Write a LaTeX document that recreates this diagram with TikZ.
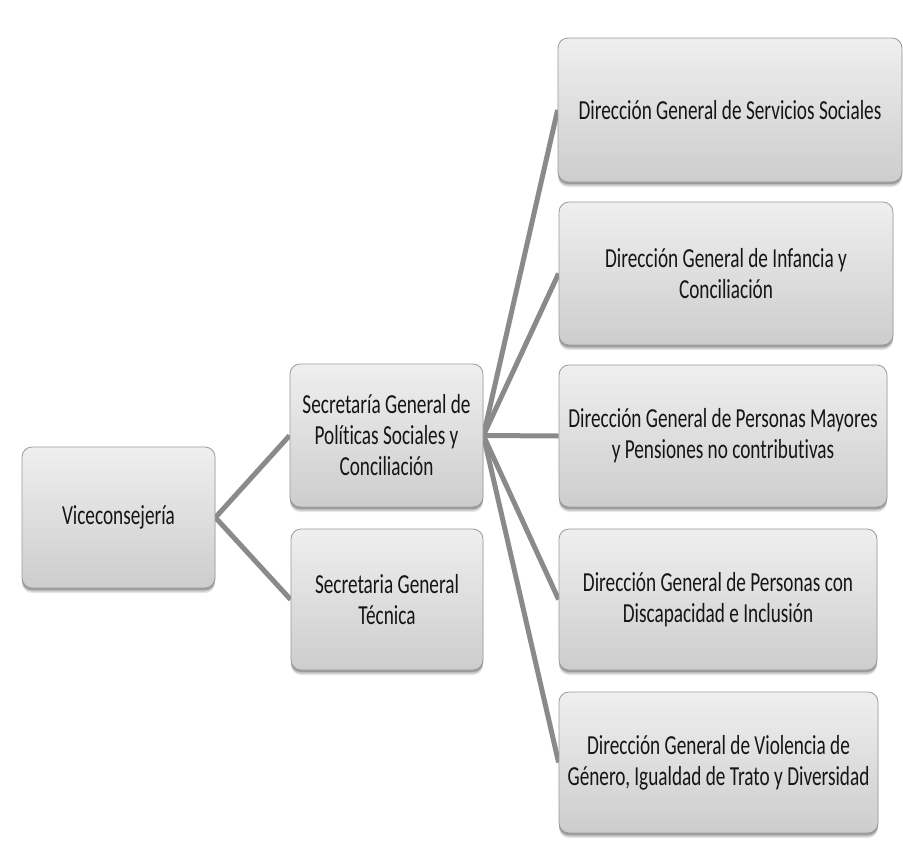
\documentclass[tikz,border=0pt]{standalone}
\usepackage{fontspec}
\setmainfont{Carlito}[FakeStretch=0.70, Ligatures=NoCommon]
\pgfdeclarelayer{bg}
\pgfdeclarelayer{paper}
\pgfsetlayers{paper,bg,main}
\definecolor{linegray}{HTML}{8A8A8A}
\definecolor{boxtop}{HTML}{EFEFEF}
\definecolor{boxmid}{HTML}{E3E3E3}
\definecolor{boxbot}{HTML}{CDCDCD}
\definecolor{boxline}{HTML}{9A9A9A}
\definecolor{txt}{HTML}{151515}
\begin{document}
\begin{tikzpicture}[x=1pt,y=-1pt,
  orgbox/.style={draw=boxline, line width=0.8pt, rounded corners=10pt,
    preaction={fill=black, fill opacity=0.10, transform canvas={yshift=-5pt}},
    preaction={fill=black, fill opacity=0.15, transform canvas={yshift=-3.5pt}},
    preaction={fill=black, fill opacity=0.20, transform canvas={yshift=-2pt}},
    top color=boxtop, middle color=boxmid, bottom color=boxbot,
    align=center, text=txt, inner sep=0pt,
    font=\fontsize{27.5}{31}\selectfont},
  link/.style={draw=linegray, line width=5pt}]
\useasboundingbox (0,0) rectangle (903,865);
\begin{pgfonlayer}{paper}
\fill[white] (0,0) rectangle (903,865);
\end{pgfonlayer}
\node[orgbox, minimum width=193pt, minimum height=141pt] (vice) at (118.5,517.5) {Viceconsejería};
\node[orgbox, minimum width=193pt, minimum height=143pt] (sgp) at (386.5,435.5) {Secretaría General de\\Políticas Sociales y\\Conciliación};
\node[orgbox, minimum width=192pt, minimum height=141pt] (sgt) at (387,599.5) {Secretaria General\\Técnica};
\node[orgbox, minimum width=344pt, minimum height=144pt] (d1) at (730,110) {Dirección General de Servicios Sociales};
\node[orgbox, minimum width=334pt, minimum height=143pt] (d2) at (726,273.5) {Dirección General de Infancia y\\Conciliación};
\node[orgbox, minimum width=328pt, minimum height=142pt] (d3) at (723,436) {Dirección General de Personas Mayores\\y Pensiones no contributivas};
\node[orgbox, minimum width=318pt, minimum height=141pt] (d4) at (718,599.5) {Dirección General de Personas con\\Discapacidad e Inclusión};
\node[orgbox, minimum width=319pt, minimum height=141pt] (d5) at (718.5,762.5) {Dirección General de Violencia de\\Género, Igualdad de Trato y Diversidad};
\begin{pgfonlayer}{bg}
\draw[link] (vice.east) -- (sgp.west);
\draw[link] (vice.east) -- (sgt.west);
\foreach \d in {d1,d2,d3,d4,d5} \draw[link] (sgp.east) -- (\d.west);
\end{pgfonlayer}
\end{tikzpicture}
\end{document}
